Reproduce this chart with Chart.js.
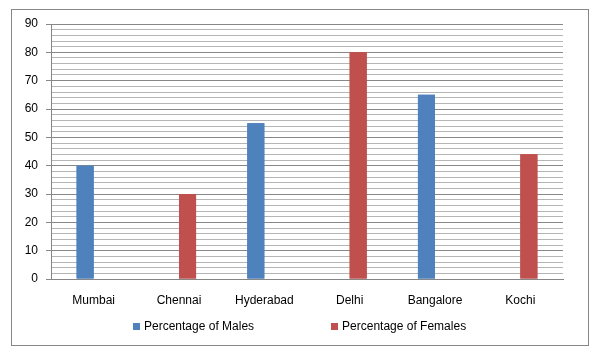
<!DOCTYPE html>
<html>
<head>
<meta charset="utf-8">
<script src="https://cdn.jsdelivr.net/npm/chart.js@4/dist/chart.umd.min.js"></script>
<style>
  html, body { margin: 0; padding: 0; background: #fff; }
  body { width: 601px; height: 356px; position: relative; overflow: hidden; font-family: "Liberation Sans", Arial, sans-serif; }
  #frame { position: absolute; left: 11px; top: 9px; width: 578px; height: 337px; box-sizing: border-box; border: 1px solid #878787; }
  #wrap { position: absolute; left: 0; top: 0; width: 601px; height: 356px; }
  #legend { position: absolute; left: 133px; top: 318px; height: 16px; display: flex; align-items: center; font-size: 12px; color: #000; }
  .item { display: flex; align-items: center; }
  .item + .item { margin-left: 77px; }
  .box { width: 7px; height: 7px; margin-right: 4px; }
</style>
</head>
<body>
<div id="frame"></div>
<div id="wrap"><canvas id="c" width="601" height="356"></canvas></div>
<div id="legend"></div>
<script>
const categories = ["Mumbai", "Chennai", "Hyderabad", "Delhi", "Bangalore", "Kochi"];
const malesPct = [40, 0, 55, 0, 65, 0];
const femalesPct = [0, 30, 0, 80, 0, 44];
const seriesNames = ["Percentage of Males", "Percentage of Females"];
const seriesColors = ["#4F81BD", "#C0504D"];
const yMin = 0, yMax = 90, yMajor = 10, yMinor = 2;

const datasets = [
  { label: seriesNames[0], data: malesPct, backgroundColor: seriesColors[0] },
  { label: seriesNames[1], data: femalesPct, backgroundColor: seriesColors[1] }
];

// Re-draw the bars through the library once everything else is painted,
// so the gridlines can never show on top of them.
const barsOnTop = {
  id: 'barsOnTop',
  afterDraw(chart) {
    const ctx = chart.ctx;
    const a = chart.chartArea;
    ctx.save();
    ctx.beginPath();
    ctx.rect(a.left, a.top, a.right - a.left, a.bottom - a.top);
    ctx.clip();
    chart.getSortedVisibleDatasetMetas().forEach((m) => m.controller.draw());
    ctx.restore();
  }
};

const chart = new Chart(document.getElementById('c'), {
  type: 'bar',
  data: { labels: categories, datasets: datasets },
  plugins: [barsOnTop],
  options: {
    responsive: false,
    animation: false,
    devicePixelRatio: 1,
    layout: { padding: { left: 11, right: 38, top: 24, bottom: 0 } },
    datasets: { bar: { categoryPercentage: 0.4, barPercentage: 1.0 } },
    plugins: { legend: { display: false }, tooltip: { enabled: false } },
    scales: {
      x: {
        grid: { display: false, drawTicks: false },
        border: { display: true, color: '#868686', width: 1 },
        ticks: { color: '#000', font: { family: 'Liberation Sans', size: 12 }, padding: 14, maxRotation: 0 },
        afterFit: (s) => { s.height = 77; }
      },
      y: {
        min: yMin, max: yMax,
        ticks: {
          stepSize: yMinor,
          autoSkip: false,
          color: '#000',
          font: { family: 'Liberation Sans', size: 12 },
          padding: 8,
          callback: (v) => (v % yMajor === 0 ? String(v) : '')
        },
        grid: {
          color: (ctx) => (ctx.tick && ctx.tick.value % yMajor === 0 ? '#888888' : '#B5B5B5'),
          tickColor: (ctx) => (ctx.tick && ctx.tick.value % yMajor === 0 ? '#888888' : 'rgba(0,0,0,0)'),
          tickLength: 5
        },
        border: { display: true, color: '#868686', width: 1 },
        afterFit: (s) => { s.width = 40; }
      }
    }
  }
});

const legend = document.getElementById('legend');
chart.data.datasets.forEach((ds) => {
  const item = document.createElement('div');
  item.className = 'item';
  const box = document.createElement('span');
  box.className = 'box';
  box.style.background = ds.backgroundColor;
  const txt = document.createElement('span');
  txt.textContent = ds.label;
  item.appendChild(box);
  item.appendChild(txt);
  legend.appendChild(item);
});
</script>
</body>
</html>
